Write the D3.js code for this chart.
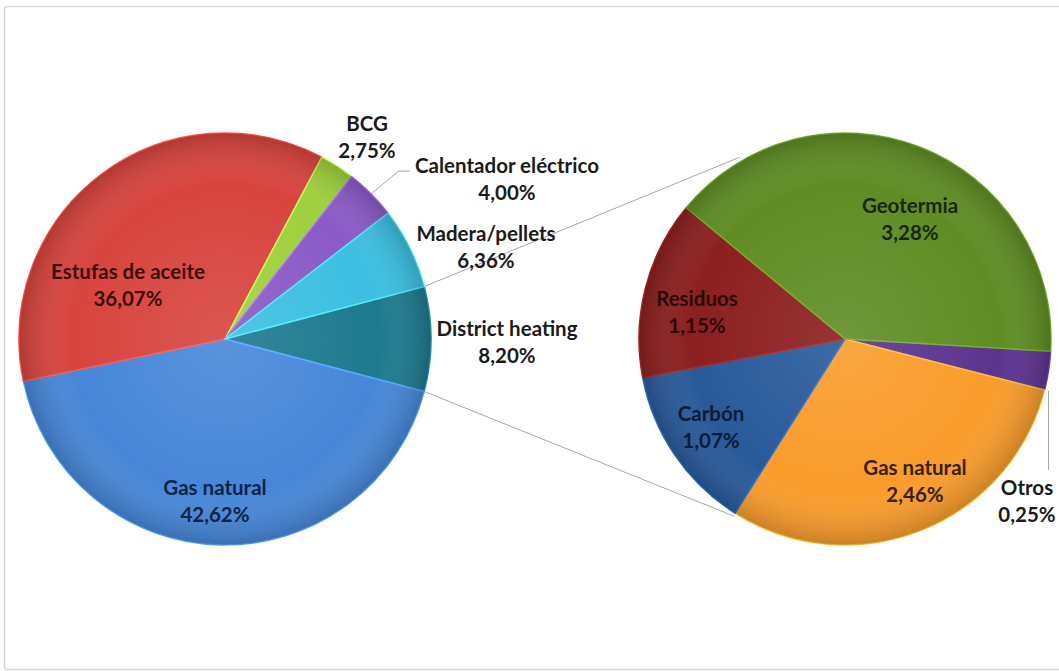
<!DOCTYPE html>
<html><head><meta charset="utf-8">
<script src="https://cdn.jsdelivr.net/npm/d3@7"></script>
<style>html,body{margin:0;padding:0;background:#fff;}svg{display:block;}</style>
</head><body>
<svg id="chart" width="1059" height="671"></svg>
<script>
// ---- data ----
const leftCategories = ["District heating", "Gas natural", "Estufas de aceite", "BCG", "Calentador eléctrico", "Madera/pellets"];
const leftValues = [8.20, 42.62, 36.07, 2.75, 4.00, 6.36];
const rightCategories = ["Otros", "Gas natural", "Carbón", "Residuos", "Geotermia"];
const rightValues = [0.25, 2.46, 1.07, 1.15, 3.28];

// ---- styling / layout ----
const leftColors = ["#1e7a8f", "#4787d8", "#d8443e", "#9fd03d", "#8a5ac6", "#3cbfe2"];
const leftText = ["#1a1a1a", "#0f2448", "#3a0c0c", "#1a1a1a", "#1a1a1a", "#1a1a1a"];
const rightColors = ["#5c3490", "#f99c2c", "#285a9a", "#8c1f1f", "#5f8d24"];
const rightText = ["#1a1a1a", "#3a2008", "#0c1c38", "#2a0808", "#17270a"];
const leftLabelPos = [[282, -11], [-10, 148], [-97, -68], [142, -216], [282, -174], [261, -106]];
const rightLabelPos = [[182, 148], [70, 128], [-134, 74], [-148, -41], [65, -134]];

const svg = d3.select("#chart");
const R = 206;
const L = {cx: 225, cy: 339};
const Rt = {cx: 845, cy: 339};
const deg = Math.PI / 180;
const fmt = v => v.toFixed(2).replace(".", ",") + "%";

// frame
svg.append("rect").attr("x", 4.5).attr("y", 6.5).attr("width", 1100).attr("height", 663)
  .attr("rx", 3).attr("fill", "#fff").attr("stroke", "#d6d6d6").attr("stroke-width", 1.5);

const defs = svg.append("defs");
const rg = defs.append("radialGradient").attr("id", "shade").attr("cx", "50%").attr("cy", "50%").attr("r", "50%");
rg.append("stop").attr("offset", "0%").attr("stop-color", "#fff").attr("stop-opacity", 0.10);
rg.append("stop").attr("offset", "75%").attr("stop-color", "#fff").attr("stop-opacity", 0);
rg.append("stop").attr("offset", "100%").attr("stop-color", "#000").attr("stop-opacity", 0.18);

const leftStart = (90 - leftValues[0] / d3.sum(leftValues) * 360 / 2) * deg;
const rightStart = 93.4 * deg;
const leftPie = d3.pie().sort(null).startAngle(leftStart).endAngle(leftStart + 2 * Math.PI)(leftValues);
const rightPie = d3.pie().sort(null).startAngle(rightStart).endAngle(rightStart + 2 * Math.PI)(rightValues);
const arc = d3.arc().innerRadius(0).outerRadius(R);

const polar = (c, a, r) => [c.cx + r * Math.sin(a), c.cy - r * Math.cos(a)];

// connector lines (behind pies)
const dh = leftPie[0];
const conn = svg.append("g").attr("stroke", "#a6a6a6").attr("stroke-width", 1).attr("fill", "none");
const p1 = polar(L, dh.startAngle, R), p2 = polar(L, dh.endAngle, R);
const q1 = polar(Rt, 330 * deg, R + 4), q2 = polar(Rt, 212 * deg, R + 3);
conn.append("line").attr("x1", p1[0]).attr("y1", p1[1]).attr("x2", q1[0]).attr("y2", q1[1]);
conn.append("line").attr("x1", p2[0]).attr("y1", p2[1]).attr("x2", q2[0]).attr("y2", q2[1]);

// leader lines
const lead = svg.append("g").attr("stroke", "#a6a6a6").attr("stroke-width", 1).attr("fill", "none");
{
  const s = leftPie[4];
  const a = (s.startAngle + s.endAngle) / 2;
  const p = polar(L, a, R - 2);
  lead.append("polyline").attr("points", [[p[0], p[1]], [p[0] + 29, p[1] - 24], [p[0] + 40, p[1] - 24]].join(" "));
  const o = rightPie[0];
  const b = (o.startAngle + o.endAngle) / 2;
  const q = polar(Rt, b, R);
  lead.append("line").attr("x1", q[0]).attr("y1", q[1] + 20).attr("x2", q[0]).attr("y2", Rt.cy + 131);
}

function drawPie(c, data, colors) {
  const g = svg.append("g").attr("transform", `translate(${c.cx},${c.cy})`);
  g.selectAll("path.slice").data(data).enter().append("path").attr("class", "slice")
    .attr("d", arc).attr("fill", (d, i) => colors[i])
    .attr("stroke", (d, i) => d3.color(colors[i]).brighter(0.6)).attr("stroke-width", 1.5)
    .attr("stroke-linejoin", "round");
  g.append("circle").attr("r", R).attr("fill", "url(#shade)").attr("pointer-events", "none");
  return g;
}
drawPie(L, leftPie, leftColors);
drawPie(Rt, rightPie, rightColors);

function drawLabels(c, cats, vals, pos, cols) {
  const g = svg.append("g").attr("font-family", "Lato, 'Open Sans', sans-serif").attr("font-weight", 700)
    .attr("font-size", "20.5px").attr("text-anchor", "middle");
  cats.forEach((name, i) => {
    const x = c.cx + pos[i][0], y = c.cy + pos[i][1];
    const t = g.append("text").attr("fill", cols[i]).attr("dominant-baseline", "central");
    t.append("tspan").attr("x", x).attr("y", y).text(name);
    t.append("tspan").attr("x", x).attr("y", y + 27).text(fmt(vals[i]));
  });
}
drawLabels(L, leftCategories, leftValues, leftLabelPos, leftText);
drawLabels(Rt, rightCategories, rightValues, rightLabelPos, rightText);
</script>
</body></html>
